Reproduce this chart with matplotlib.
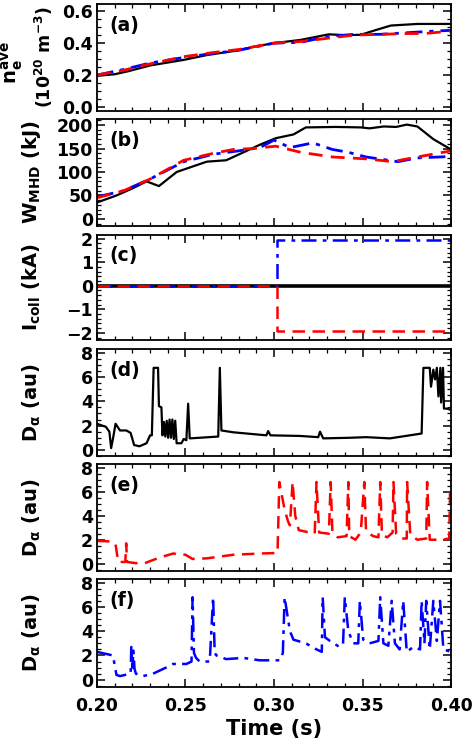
import matplotlib.pyplot as plt
from matplotlib.ticker import MultipleLocator

# ---- data ----
# (a) line-averaged density, 10^20 m^-3
t_ne_k = [0.200, 0.210, 0.218, 0.230, 0.249, 0.262, 0.277, 0.290, 0.300, 0.315, 0.331, 0.340, 0.349, 0.357, 0.366, 0.381, 0.400]
ne_k = [0.195, 0.205, 0.225, 0.26, 0.295, 0.325, 0.35, 0.38, 0.40, 0.42, 0.455, 0.45, 0.452, 0.48, 0.51, 0.52, 0.52]
t_ne_r = [0.200, 0.215, 0.230, 0.249, 0.265, 0.280, 0.300, 0.315, 0.330, 0.345, 0.360, 0.375, 0.385, 0.400]
ne_r = [0.20, 0.23, 0.27, 0.315, 0.34, 0.36, 0.40, 0.41, 0.43, 0.45, 0.455, 0.46, 0.46, 0.475]
t_ne_b = [0.200, 0.215, 0.230, 0.249, 0.265, 0.280, 0.300, 0.315, 0.330, 0.345, 0.360, 0.375, 0.390, 0.400]
ne_b = [0.20, 0.235, 0.275, 0.31, 0.335, 0.355, 0.40, 0.405, 0.44, 0.455, 0.455, 0.465, 0.475, 0.48]

# (b) stored energy, kJ
t_w_k = [0.200, 0.211, 0.220, 0.228, 0.235, 0.245, 0.262, 0.273, 0.292, 0.301, 0.311, 0.318, 0.335, 0.349, 0.354, 0.362, 0.369, 0.375, 0.381, 0.390, 0.400]
w_k = [35, 50, 65, 80, 70, 100, 122, 125, 158, 172, 180, 195, 196, 195, 193, 197, 196, 201, 197, 170, 148]
t_w_r = [0.200, 0.215, 0.230, 0.249, 0.266, 0.277, 0.288, 0.301, 0.315, 0.333, 0.352, 0.367, 0.381, 0.400]
w_r = [45, 60, 85, 125, 140, 148, 150, 155, 142, 132, 128, 122, 132, 145]
t_w_b = [0.200, 0.215, 0.230, 0.249, 0.266, 0.280, 0.292, 0.300, 0.309, 0.322, 0.333, 0.342, 0.352, 0.370, 0.381, 0.400]
w_b = [47, 60, 85, 122, 138, 145, 152, 168, 152, 162, 148, 142, 132, 122, 130, 133]

# (c) coil current, kA
t_ic = [0.200, 0.3015, 0.3015, 0.400]
ic_k = [0.0, 0.0, 0.0, 0.0]
ic_r = [0.0, 0.0, -1.9, -1.9]
ic_b = [0.0, 0.0, 1.95, 1.95]

# (d) D-alpha, reference shot (black)
t_dk = [0.200, 0.205, 0.207, 0.208, 0.209, 0.2105, 0.213, 0.2166, 0.219, 0.221, 0.224, 0.228, 0.230, 0.231,
        0.232, 0.2345, 0.235, 0.2364, 0.237, 0.2378, 0.2386, 0.2394, 0.2402, 0.241, 0.2418, 0.2426, 0.2434,
        0.2442, 0.245, 0.2477, 0.249, 0.2505, 0.2515, 0.2524, 0.258, 0.2685, 0.2694, 0.2703, 0.277, 0.2957,
        0.2967, 0.298, 0.3146, 0.325, 0.326, 0.3278, 0.343, 0.352, 0.3655, 0.3834, 0.3844, 0.388, 0.3887,
        0.390, 0.391, 0.392, 0.3929, 0.394, 0.3944, 0.3955, 0.396, 0.3975, 0.400]
d_k = [2.15, 1.9, 1.5, 0.15, 0.9, 2.15, 1.6, 1.6, 1.4, 0.4, 0.3, 0.55, 1.2, 1.2,
       6.75, 6.75, 3.6, 3.5, 1.2, 2.3, 1.1, 2.4, 1.0, 2.5, 1.0, 2.5, 0.9,
       2.4, 0.55, 0.55, 0.9, 0.8, 3.8, 0.95, 1.0, 1.1, 6.75, 1.6, 1.45, 1.2,
       1.55, 1.2, 1.15, 1.05, 1.5, 0.95, 1.0, 1.05, 0.95, 1.35, 6.75, 6.75, 5.2,
       6.6, 5.8, 6.75, 4.4, 6.75, 3.9, 6.75, 3.4, 3.4, 3.3]

# (e) D-alpha, negative coil current (red)
t_dr = [0.200, 0.209, 0.2105, 0.212, 0.216, 0.2165, 0.217, 0.2195, 0.222, 0.227, 0.235, 0.243, 0.250,
        0.254, 0.262, 0.277, 0.292, 0.302, 0.303, 0.306, 0.308, 0.309, 0.3105, 0.312, 0.314, 0.320,
        0.323, 0.324, 0.3255, 0.331, 0.332, 0.333, 0.336, 0.341, 0.342, 0.3425, 0.346, 0.349, 0.351,
        0.352, 0.356, 0.359, 0.360, 0.361, 0.364, 0.367, 0.3675, 0.369, 0.372, 0.375, 0.3752, 0.377,
        0.381, 0.386, 0.3865, 0.388, 0.395, 0.399, 0.3995, 0.400]
d_r = [1.9, 1.85, 1.6, 0.15, 0.15, 1.7, 0.15, 0.1, 0.05, 0.05, 0.5, 0.85, 0.75,
       0.4, 0.45, 0.75, 0.85, 0.9, 6.8, 4.5, 3.5, 3.2, 6.8, 4.0, 2.8, 2.6,
       2.5, 6.8, 2.6, 2.5, 6.8, 2.6, 2.2, 2.3, 6.8, 2.3, 2.0, 2.6, 6.8,
       2.7, 2.3, 2.2, 6.8, 2.4, 2.2, 2.6, 6.8, 2.5, 2.1, 2.1, 6.8, 2.4,
       2.0, 2.1, 6.8, 2.0, 2.0, 2.1, 6.5, 6.5]

# (f) D-alpha, positive coil current (blue)
t_db = [0.200, 0.209, 0.211, 0.213, 0.219, 0.2194, 0.2200, 0.2206, 0.2212, 0.222, 0.226, 0.2317, 0.239,
        0.243, 0.2505, 0.2534, 0.254, 0.2548, 0.256, 0.258, 0.2637, 0.2656, 0.2665, 0.2675, 0.273, 0.2826,
        0.292, 0.3033, 0.305, 0.306, 0.309, 0.311, 0.318, 0.324, 0.327, 0.3275, 0.3288, 0.3316, 0.337,
        0.339, 0.340, 0.342, 0.3448, 0.3476, 0.3485, 0.3504, 0.354, 0.359, 0.360, 0.3618, 0.3646, 0.3665,
        0.3683, 0.371, 0.373, 0.375, 0.3787, 0.3825, 0.3834, 0.385, 0.386, 0.388, 0.390, 0.392, 0.3938,
        0.3957, 0.400]
d_b = [2.3, 2.0, 0.4, 0.3, 0.5, 2.7, 1.0, 2.4, 0.9, 0.5, 0.3, 0.5, 1.0,
       1.3, 1.3, 1.5, 6.8, 2.2, 1.8, 1.5, 1.5, 6.8, 2.2, 2.0, 1.7, 1.8,
       1.6, 1.6, 2.2, 6.8, 4.0, 3.3, 3.0, 2.5, 2.3, 6.8, 3.5, 3.2, 2.7,
       2.9, 6.8, 4.0, 3.0, 3.0, 6.5, 3.3, 3.0, 3.2, 6.8, 3.0, 2.8, 6.5,
       3.0, 2.5, 6.5, 2.3, 2.7, 2.5, 6.5, 3.0, 6.5, 2.5, 6.5, 3.2, 6.5,
       2.5, 2.3]

panel_tags = ['(a)', '(b)', '(c)', '(d)', '(e)', '(f)']
x_ticks = [0.20, 0.25, 0.30, 0.35, 0.40]

plt.rcParams.update({
    'font.family': 'DejaVu Sans',
    'font.weight': 'bold',
    'axes.labelweight': 'bold',
    'mathtext.fontset': 'custom',
    'mathtext.rm': 'DejaVu Sans:bold',
    'mathtext.it': 'DejaVu Sans:bold',
    'mathtext.bf': 'DejaVu Sans:bold',
    'axes.linewidth': 1.3,
    'xtick.direction': 'in', 'ytick.direction': 'in',
    'xtick.top': True, 'ytick.right': True,
    'xtick.major.size': 6, 'ytick.major.size': 6,
    'xtick.minor.size': 3, 'ytick.minor.size': 3,
    'xtick.major.width': 1.1, 'ytick.major.width': 1.1,
    'xtick.minor.width': 0.9, 'ytick.minor.width': 0.9,
    'xtick.labelsize': 12.5, 'ytick.labelsize': 12.5,
})

fig = plt.figure(figsize=(4.74, 7.51), dpi=100)
left, width = 0.2046, 0.7469
rects = [(0.8522, 0.1425), (0.6991, 0.1425), (0.5473, 0.1398),
         (0.3928, 0.1425), (0.2397, 0.1425), (0.0852, 0.1438)]
axes = [fig.add_axes([left, b, width, h]) for b, h in rects]

RED_DASH = (0, (5, 3))
BLUE_DD = (0, (6, 2.5, 1.5, 2.5))

ax = axes[0]
ax.plot(t_ne_k, ne_k, color='black', lw=1.6)
ax.plot(t_ne_b, ne_b, color='blue', lw=2.0, linestyle=BLUE_DD)
ax.plot(t_ne_r, ne_r, color='red', lw=2.0, linestyle=RED_DASH)
ax.set_ylim(-0.025, 0.645)
ax.yaxis.set_major_locator(MultipleLocator(0.2))
ax.yaxis.set_minor_locator(MultipleLocator(0.05))
ax.yaxis.set_major_formatter(plt.FormatStrFormatter('%.1f'))
ax.text(-0.24, 0.45, r'$\mathregular{n_e^{ave}}$', transform=ax.transAxes,
        rotation=90, ha='center', va='center', fontsize=14)
ax.text(-0.15, 0.5, r'$\mathregular{(10^{20}\ m^{-3})}$', transform=ax.transAxes,
        rotation=90, ha='center', va='center', fontsize=12.5)

ax = axes[1]
ax.plot(t_w_k, w_k, color='black', lw=1.6)
ax.plot(t_w_b, w_b, color='blue', lw=2.0, linestyle=BLUE_DD)
ax.plot(t_w_r, w_r, color='red', lw=2.0, linestyle=RED_DASH)
ax.set_ylim(-15, 213)
ax.yaxis.set_major_locator(MultipleLocator(50))
ax.yaxis.set_minor_locator(MultipleLocator(10))
ax.text(-0.185, 0.5, r'W$_{\mathregular{MHD}}$ (kJ)', transform=ax.transAxes,
        rotation=90, ha='center', va='center', fontsize=14)

ax = axes[2]
ax.plot(t_ic, ic_k, color='black', lw=2.6)
ax.plot(t_ic, ic_b, color='blue', lw=1.8, linestyle=BLUE_DD)
ax.plot(t_ic, ic_r, color='red', lw=1.8, linestyle=RED_DASH)
ax.set_ylim(-2.3, 2.15)
ax.yaxis.set_major_locator(MultipleLocator(1))
ax.yaxis.set_minor_locator(MultipleLocator(0.2))
ax.text(-0.185, 0.5, r'I$_{\mathregular{coll}}$ (kA)', transform=ax.transAxes,
        rotation=90, ha='center', va='center', fontsize=14)

d_sets = [(t_dk, d_k, 'black', '-', 1.6, (-0.5, 8.3)),
          (t_dr, d_r, 'red', RED_DASH, 1.8, (-0.6, 8.3)),
          (t_db, d_b, 'blue', BLUE_DD, 1.8, (-0.6, 8.3))]
for ax, (tt, dd, c, ls, lw, yl) in zip(axes[3:], d_sets):
    ax.plot(tt, dd, color=c, linestyle=ls, lw=lw)
    ax.set_ylim(*yl)
    ax.yaxis.set_major_locator(MultipleLocator(2))
    ax.yaxis.set_minor_locator(MultipleLocator(0.5))
    ax.text(-0.185, 0.5, r'D$_\alpha$ (au)', transform=ax.transAxes,
            rotation=90, ha='center', va='center', fontsize=14)

for ax, tag in zip(axes, panel_tags):
    ax.set_xlim(0.20, 0.40)
    ax.set_xticks(x_ticks)
    ax.xaxis.set_minor_locator(MultipleLocator(0.01))
    ax.tick_params(axis='y', which='major', pad=3)
    ax.text(0.035, 0.80, tag, transform=ax.transAxes, ha='left', va='center', fontsize=13.5)
    if ax is not axes[-1]:
        ax.tick_params(axis='x', labelbottom=False)

axes[-1].xaxis.set_major_formatter(plt.FormatStrFormatter('%.2f'))
axes[-1].tick_params(axis='x', which='major', pad=7)
axes[-1].set_xlabel('Time (s)', fontsize=15, fontweight='bold', labelpad=3)

plt.savefig('out.png', dpi=100)
